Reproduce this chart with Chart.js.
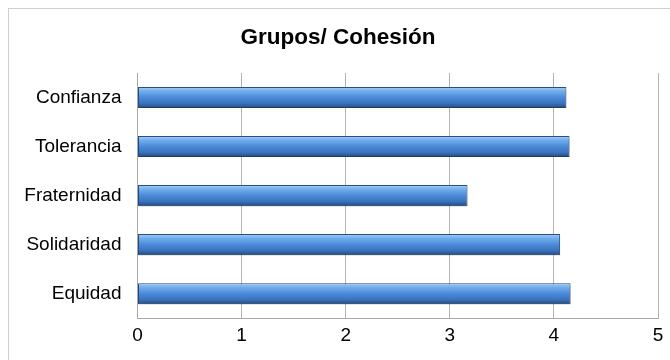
<!DOCTYPE html>
<html>
<head>
<meta charset="utf-8">
<script src="https://cdn.jsdelivr.net/npm/chart.js@4/dist/chart.umd.min.js"></script>
<style>
  body { margin: 0; background: #fff; }
  #wrap { width: 670px; height: 360px; }
</style>
</head>
<body>
<div id="wrap"><canvas id="barChart" width="670" height="360"></canvas></div>
<script>
const categories = ['Confianza', 'Tolerancia', 'Fraternidad', 'Solidaridad', 'Equidad']
const values = [4.12, 4.15, 3.17, 4.06, 4.16]
const xTicks = [0, 1, 2, 3, 4, 5]

const ctx = document.getElementById('barChart').getContext('2d')

// bevelled blue look: one vertical gradient per bar
function barGradient(context) {
    const chart = context.chart
    const yScale = chart.scales.y
    if (!yScale || !chart.chartArea) return '#4a8ad8'
    const mid = yScale.getPixelForValue(context.dataIndex)
    const half = 10.5
    const g = chart.ctx.createLinearGradient(0, mid - half, 0, mid + half)
    g.addColorStop(0, '#a9d0f5')
    g.addColorStop(0.18, '#74b0ee')
    g.addColorStop(0.5, '#4a8ad8')
    g.addColorStop(0.78, '#3a73bd')
    g.addColorStop(1, '#22497f')
    return g
}

// outer frame of the chart box
const framePlugin = {
    id: 'frame',
    beforeDraw(chart) {
        const c = chart.ctx
        c.save()
        c.fillStyle = '#fff'
        c.fillRect(0, 0, chart.width, chart.height)
        c.strokeStyle = '#cfcfcf'
        c.lineWidth = 1
        c.strokeRect(8.5, 8.5, 700, 400)
        c.restore()
    },
    beforeDatasetsDraw(chart) {
        const c = chart.ctx
        c.save()
        c.shadowColor = 'rgba(0,0,0,0.35)'
        c.shadowBlur = 3
        c.shadowOffsetY = 2
    },
    afterDatasetsDraw(chart) {
        chart.ctx.restore()
    }
}

const data = {
    labels: categories,
    datasets: [{
        data: values,
        backgroundColor: barGradient,
        borderColor: '#2a4f85',
        borderWidth: 1,
        borderSkipped: false,
        categoryPercentage: 1,
        barPercentage: 0.43,
    }],
}

const config = {
    type: 'bar',
    data: data,
    plugins: [framePlugin],
    options: {
        indexAxis: 'y',
        responsive: false,
        animation: false,
        layout: {
            padding: { left: 18, right: 12, top: 0, bottom: 7 },
        },
        plugins: {
            legend: { display: false },
            tooltip: { enabled: false },
            title: {
                display: true,
                text: 'Grupos/ Cohesión',
                color: '#000',
                font: { family: 'Liberation Sans', size: 22.5, weight: 'bold' },
                padding: { top: 24, bottom: 22 },
            },
        },
        scales: {
            x: {
                min: 0,
                max: 5,
                afterBuildTicks(scale) {
                    scale.ticks = xTicks.map(v => ({ value: v }))
                },
                ticks: {
                    color: '#000',
                    padding: 6,
                    font: { family: 'Liberation Sans', size: 19 },
                },
                grid: { color: '#b4b4b4', drawTicks: false },
                border: { display: true, color: '#a8a8a8' },
            },
            y: {
                afterFit(scale) {
                    scale.width = 119.5
                },
                ticks: {
                    color: '#000',
                    padding: 16,
                    font: { family: 'Liberation Sans', size: 19 },
                },
                grid: { display: false, drawTicks: false },
                border: { display: true, color: '#a8a8a8' },
            },
        },
    },
}

const myChart = new Chart(ctx, config)
</script>
</body>
</html>
